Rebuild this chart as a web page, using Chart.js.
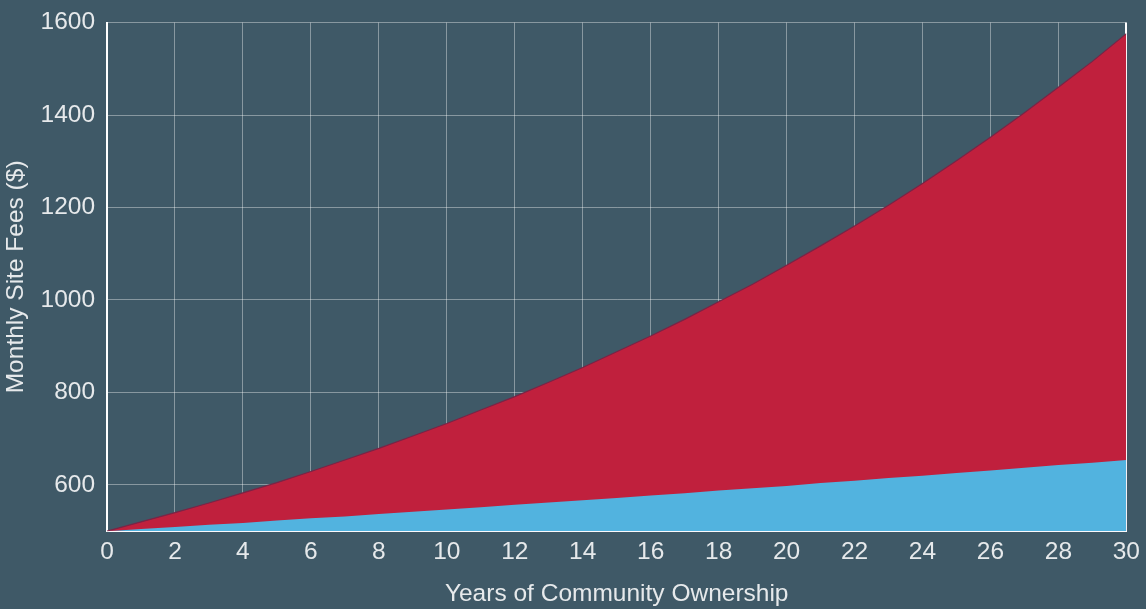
<!DOCTYPE html>
<html>
<head>
<meta charset="utf-8">
<script src="https://cdn.jsdelivr.net/npm/chart.js@4/dist/chart.umd.min.js"></script>
<style>
  html, body { margin: 0; padding: 0; background: #3f5967; }
  #wrap { width: 1146px; height: 609px; }
</style>
</head>
<body>
<div id="wrap"><canvas id="c" width="1146" height="609"></canvas></div>
<script>
// Years after the community takes ownership
const years = [0, 1, 2, 3, 4, 5, 6, 7, 8, 9, 10, 11, 12, 13, 14, 15,
               16, 17, 18, 19, 20, 21, 22, 23, 24, 25, 26, 27, 28, 29, 30];

// Monthly site fees under an outside owner ($)
const investorFees = [500, 520, 540, 561, 583, 605, 629, 654, 679, 706, 733,
                      762, 791, 822, 854, 888, 922, 958, 996, 1034, 1075,
                      1117, 1160, 1205, 1252, 1301, 1352, 1405, 1460, 1516, 1576];

// Monthly site fees under community ownership ($)
const communityFees = [500, 505, 509, 514, 518, 523, 528, 532, 537, 542, 547,
                       552, 557, 562, 567, 572, 577, 582, 588, 593, 598,
                       604, 609, 615, 620, 626, 631, 637, 643, 648, 654];

const xTicks = [0, 2, 4, 6, 8, 10, 12, 14, 16, 18, 20, 22, 24, 26, 28, 30];
const yTicks = [600, 800, 1000, 1200, 1400, 1600];

const toPoints = vals => years.map((yr, i) => ({ x: yr, y: vals[i] }));

const FONT = "'Liberation Sans', Arial, sans-serif";
const TEXT = '#e6e9eb';
const GRID = 'rgba(255,255,255,0.38)';

new Chart(document.getElementById('c'), {
  type: 'line',
  data: {
    datasets: [
      {
        label: 'Community ownership',
        data: toPoints(communityFees),
        backgroundColor: '#52b3df',
        borderColor: 'rgba(82,179,223,0)',
        borderWidth: 0,
        pointRadius: 0,
        fill: 'origin',
        order: 0
      },
      {
        label: 'Outside ownership',
        data: toPoints(investorFees),
        backgroundColor: '#c0203d',
        borderColor: '#7a2446',
        borderWidth: 1.2,
        pointRadius: 0,
        fill: 'origin',
        order: 1
      }
    ]
  },
  options: {
    responsive: false,
    animation: false,
    layout: { padding: { top: 6, right: 17, bottom: 0, left: 0 } },
    plugins: { legend: { display: false }, tooltip: { enabled: false } },
    scales: {
      x: {
        type: 'linear',
        min: 0,
        max: 30,
        afterBuildTicks: s => { s.ticks = xTicks.map(v => ({ value: v })); },
        grid: {
          drawTicks: false,
          lineWidth: ctx => (ctx.tick && ctx.tick.value === 30 ? 2 : 1),
          color: ctx => (ctx.tick && ctx.tick.value === 30 ? '#ffffff' : GRID)
        },
        border: { color: '#ffffff', width: 2 },
        ticks: { color: TEXT, font: { family: FONT, size: 24.5 }, padding: 6, maxRotation: 0,
                 callback: v => String(v) },
        title: {
          display: true,
          text: 'Years of Community Ownership',
          color: TEXT,
          font: { family: FONT, size: 24.5 },
          padding: { top: 7, bottom: 0 }
        }
      },
      y: {
        type: 'linear',
        min: 500,
        max: 1600,
        afterBuildTicks: s => { s.ticks = yTicks.map(v => ({ value: v })); },
        grid: { drawTicks: false, color: GRID, lineWidth: 1 },
        border: { color: '#ffffff', width: 2 },
        ticks: { color: TEXT, font: { family: FONT, size: 24.5, lineHeight: 0.86 }, padding: 12,
                 callback: v => String(v) },
        title: {
          display: true,
          text: 'Monthly Site Fees ($)',
          color: TEXT,
          font: { family: FONT, size: 24.5, lineHeight: 1 },
          padding: { top: 4, bottom: 0 }
        }
      }
    }
  }
});
</script>
</body>
</html>
